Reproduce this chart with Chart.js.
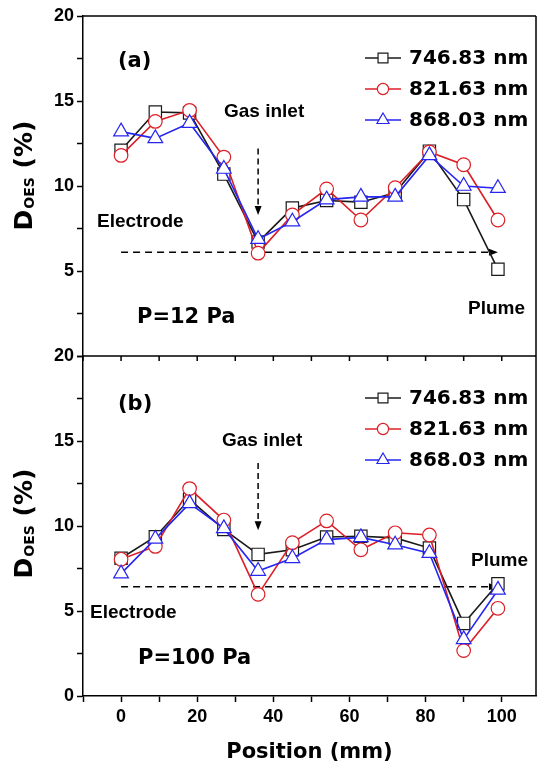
<!DOCTYPE html>
<html>
<head>
<meta charset="utf-8">
<script src="https://cdn.jsdelivr.net/npm/chart.js@4.4.1/dist/chart.umd.min.js"></script>
<style>
  html, body { margin: 0; padding: 0; background: #fff; overflow: hidden; }
  #wrap { width: 538px; height: 769px; position: absolute; left: 0; top: 0; }
  canvas { display: block; }
</style>
</head>
<body>
<div id="wrap"><canvas id="chart"></canvas></div>
<script>
// ── data ──
const positionMm = [0, 9, 18, 27, 36, 45, 54, 63, 72, 81, 90, 99];

// D_OES (%) at P = 12 Pa
const d746At12 = [12.1, 14.35, 14.3, 10.7, 6.7, 8.7, 9.15, 9.05, 9.6, 12.05, 9.2, 5.1];
const d821At12 = [11.8, 13.8, 14.45, 11.7, 6.05, 8.3, 9.83, 8.0, 9.9, 12.0, 11.25, 8.0];
const d868At12 = [13.2, 12.8, 13.7, 11.0, 6.87, 7.9, 9.2, 9.36, 9.36, 11.8, 10.0, 9.87];

// D_OES (%) at P = 100 Pa
const d746At100 = [8.1, 9.37, 11.57, 9.8, 8.33, 8.6, 9.35, 9.4, 9.3, 8.7, 4.27, 6.6];
const d821At100 = [8.04, 8.8, 12.2, 10.35, 5.98, 9.02, 10.3, 8.6, 9.6, 9.47, 2.67, 5.16];
const d868At100 = [7.2, 9.24, 11.33, 9.86, 7.35, 8.1, 9.2, 9.33, 8.9, 8.4, 3.33, 6.24];

const wavelengths = ['746.83 nm', '821.63 nm', '868.03 nm'];
const xTickValues = [-10, 0, 10, 20, 30, 40, 50, 60, 70, 80, 90, 100];
const yTickValues = [0, 2.5, 5, 7.5, 10, 12.5, 15, 17.5, 20];

// dashed guide lines: electrode -> plume level, and gas inlet arrow
const guideSpan = [0, 99];
const guideLevel = [6.1, 6.43];
const inletPos = 36;
const inletSpan12 = [12.2, 8.3];
const inletSpan100 = [13.7, 9.75];

// ── styles ──
const ink = '#000';
const seriesColors = ['#1a1a1a', '#dc1f27', '#2626f0'];
const seriesShapes = ['rect', 'circle', 'triangle'];
const seriesRadius = [8.7, 6.8, 8.5];
const legendRadius = [7, 5.6, 7];
const tickFont = { family: 'Liberation Sans', size: 18, weight: 'bold' };

function series(values, i, axis) {
  return {
    label: wavelengths[i],
    data: positionMm.map((x, k) => ({ x, y: values[k] })),
    yAxisID: axis,
    borderColor: seriesColors[i],
    backgroundColor: '#fff',
    borderWidth: 1.6,
    pointStyle: seriesShapes[i],
    pointRadius: seriesRadius[i],
    pointHoverRadius: seriesRadius[i],
    pointBorderWidth: 1.2,
    pointBackgroundColor: '#fff',
    pointBorderColor: seriesColors[i],
    order: 3 - i,
    tension: 0,
    clip: false
  };
}

function yScale(hideZero) {
  return {
    type: 'linear', position: 'left', stack: 'panels', stackWeight: 1,
    min: 0, max: 20,
    afterBuildTicks: s => { s.ticks = yTickValues.map(v => ({ value: v })); },
    afterFit: s => { s.width = 83; },
    ticks: {
      font: tickFont, color: ink, padding: 3, autoSkip: false,
      callback: v => (v % 5 === 0 && !(hideZero && v === 0)) ? String(v) : ''
    },
    grid: { drawOnChartArea: false, drawTicks: true, tickLength: 6, tickWidth: 1.5, tickColor: ink },
    border: { display: true, color: ink, width: 1.5 }
  };
}

function dashedArrow(ctx, x1, y1, x2, y2, dash) {
  const len = Math.hypot(x2 - x1, y2 - y1);
  const ux = (x2 - x1) / len, uy = (y2 - y1) / len;
  const head = 9, half = 3.5;
  ctx.setLineDash(dash);
  ctx.beginPath();
  ctx.moveTo(x1, y1);
  ctx.lineTo(x2 - ux * head, y2 - uy * head);
  ctx.stroke();
  ctx.setLineDash([]);
  ctx.beginPath();
  ctx.moveTo(x2, y2);
  ctx.lineTo(x2 - ux * head - uy * half, y2 - uy * head + ux * half);
  ctx.lineTo(x2 - ux * head + uy * half, y2 - uy * head - ux * half);
  ctx.closePath();
  ctx.fill();
}

function drawYTitle(ctx, cx, cy) {
  const big = 'bold 25px "DejaVu Sans"', small = 'bold 14px "DejaVu Sans"';
  ctx.save();
  ctx.translate(cx, cy);
  ctx.rotate(-Math.PI / 2);
  ctx.textBaseline = 'alphabetic';
  ctx.textAlign = 'left';
  ctx.font = big; const wD = ctx.measureText('D').width;
  ctx.font = small; const wS = ctx.measureText('OES').width;
  ctx.font = big; const wP = ctx.measureText(' (%)').width;
  let x = -(wD + wS + wP) / 2;
  ctx.font = big; ctx.fillText('D', x, 10); x += wD;
  ctx.font = small; ctx.fillText('OES', x + 1, 12); x += wS + 1;
  ctx.font = big; ctx.fillText(' (%)', x, 10);
  ctx.restore();
}

function drawLegend(ctx, top) {
  const rows = [42, 73, 104];
  rows.forEach((dy, i) => {
    const y = top + dy;
    ctx.strokeStyle = seriesColors[i];
    ctx.lineWidth = 1.6;
    ctx.beginPath(); ctx.moveTo(365, y); ctx.lineTo(401, y); ctx.stroke();
    ctx.fillStyle = '#fff';
    ctx.lineWidth = 1.2;
    Chart.helpers.drawPoint(ctx, { pointStyle: seriesShapes[i], radius: legendRadius[i], rotation: 0, borderWidth: 1.2 }, 383, y);
    ctx.fillStyle = ink;
    ctx.font = 'bold 20px "DejaVu Sans"';
    ctx.textBaseline = 'middle';
    ctx.textAlign = 'left';
    ctx.fillText(wavelengths[i], 409, y + 1);
  });
}

function label(ctx, text, x, y, font) {
  ctx.font = font;
  ctx.fillStyle = ink;
  ctx.textBaseline = 'middle';
  ctx.textAlign = 'left';
  ctx.fillText(text, x, y);
}

const decor = {
  id: 'decor',
  beforeDatasetsDraw(chart) {
    const { ctx, scales: { x, ya, yb } } = chart;
    ctx.save();
    ctx.strokeStyle = ink;
    ctx.fillStyle = ink;
    ctx.lineWidth = 1.5;
    dashedArrow(ctx, x.getPixelForValue(guideSpan[0]), ya.getPixelForValue(guideLevel[0]),
      x.getPixelForValue(guideSpan[1]), ya.getPixelForValue(guideLevel[0]), [7, 5]);
    dashedArrow(ctx, x.getPixelForValue(guideSpan[0]), yb.getPixelForValue(guideLevel[1]),
      x.getPixelForValue(guideSpan[1]), yb.getPixelForValue(guideLevel[1]), [7, 5]);
    dashedArrow(ctx, x.getPixelForValue(inletPos), ya.getPixelForValue(inletSpan12[0]),
      x.getPixelForValue(inletPos), ya.getPixelForValue(inletSpan12[1]), [6, 4]);
    dashedArrow(ctx, x.getPixelForValue(inletPos), yb.getPixelForValue(inletSpan100[0]),
      x.getPixelForValue(inletPos), yb.getPixelForValue(inletSpan100[1]), [6, 4]);
    ctx.restore();
  },
  afterDraw(chart) {
    const { ctx, scales: { x, ya, yb } } = chart;
    ctx.save();
    // frame: top, right and the panel divider
    ctx.strokeStyle = ink;
    ctx.lineWidth = 1.5;
    ctx.beginPath();
    ctx.moveTo(x.left, ya.top); ctx.lineTo(x.right, ya.top);
    ctx.moveTo(x.right, ya.top); ctx.lineTo(x.right, yb.bottom);
    ctx.moveTo(x.left, ya.bottom); ctx.lineTo(x.right, ya.bottom);
    ctx.stroke();
    // inward ticks under the divider
    ctx.beginPath();
    xTickValues.forEach(v => {
      const px = x.getPixelForValue(v);
      ctx.moveTo(px, ya.bottom); ctx.lineTo(px, ya.bottom + 5);
    });
    ctx.stroke();

    const ta = ya.top, tb = yb.top;
    const sans = 'bold 19px "Liberation Sans"';
    label(ctx, '(a)', 118, ta + 46, 'bold 21px "DejaVu Sans"');
    label(ctx, '(b)', 118, tb + 49, 'bold 21px "DejaVu Sans"');
    label(ctx, 'Gas inlet', 224, ta + 96, sans);
    label(ctx, 'Gas inlet', 222, tb + 85, sans);
    label(ctx, 'Electrode', 97, ta + 206, sans);
    label(ctx, 'Electrode', 90, tb + 257, sans);
    label(ctx, 'P=12 Pa', 137, ta + 302, 'bold 21px "DejaVu Sans"');
    label(ctx, 'P=100 Pa', 138, tb + 303, 'bold 21px "DejaVu Sans"');
    label(ctx, 'Plume', 468, ta + 293, sans);
    label(ctx, 'Plume', 471, tb + 205, sans);

    drawLegend(ctx, ta);
    drawLegend(ctx, tb);

    drawYTitle(ctx, 22, (ya.top + ya.bottom) / 2 - 10);
    drawYTitle(ctx, 22, (yb.top + yb.bottom) / 2 - 2);
    ctx.restore();
  }
};

new Chart(document.getElementById('chart'), {
  type: 'line',
  data: {
    datasets: [
      series(d746At12, 0, 'ya'),
      series(d821At12, 1, 'ya'),
      series(d868At12, 2, 'ya'),
      series(d746At100, 0, 'yb'),
      series(d821At100, 1, 'yb'),
      series(d868At100, 2, 'yb')
    ]
  },
  options: {
    responsive: true, maintainAspectRatio: false, animation: false,
    // markers may overhang the frame; keep the plot area fixed
    layout: { autoPadding: false, padding: { top: 16, right: 2, left: 0, bottom: 0 } },
    plugins: { legend: { display: false }, tooltip: { enabled: false } },
    scales: {
      x: {
        type: 'linear', position: 'bottom', min: -10, max: 109,
        afterBuildTicks: s => { s.ticks = xTickValues.map(v => ({ value: v })); },
        afterFit: s => { s.height = 73; s.paddingLeft = 0; s.paddingRight = 0; },
        ticks: {
          font: tickFont, color: ink, padding: 4, maxRotation: 0, autoSkip: false,
          callback: v => (v >= 0 && v % 20 === 0) ? String(v) : ''
        },
        grid: { drawOnChartArea: false, drawTicks: true, tickLength: 6, tickWidth: 1.5, tickColor: ink },
        border: { display: true, color: ink, width: 1.5 },
        title: {
          display: true, text: 'Position (mm)', color: ink,
          font: { family: 'DejaVu Sans', size: 21, weight: 'bold' },
          padding: { top: 0, bottom: 4 }
        }
      },
      // stacked left axes: the later one is laid out on top
      yb: yScale(false),
      ya: yScale(true)
    }
  },
  plugins: [decor]
});
</script>
</body>
</html>
